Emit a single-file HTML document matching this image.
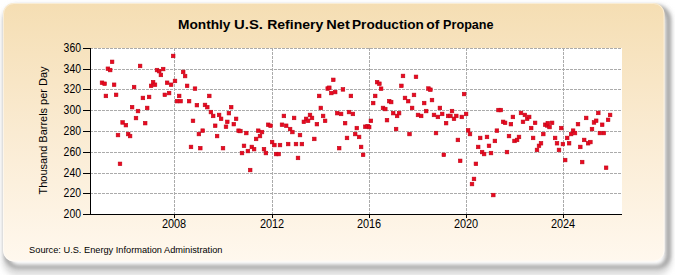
<!DOCTYPE html>
<html><head><meta charset="utf-8"><style>html,body{margin:0;padding:0;background:#fff;width:675px;height:275px;overflow:hidden}svg{display:block}</style></head>
<body><svg width="675" height="275" viewBox="0 0 675 275">
<defs>
<linearGradient id="bg" x1="0" y1="0" x2="0" y2="1">
<stop offset="0" stop-color="#F5DEB3"/>
<stop offset="0.5" stop-color="#FAEBD2"/>
<stop offset="1" stop-color="#FFF8EE"/>
</linearGradient>
<filter id="b1" x="-10%" y="-10%" width="120%" height="130%"><feGaussianBlur stdDeviation="1.9"/></filter>
<filter id="b2" x="-10%" y="-10%" width="120%" height="130%"><feGaussianBlur stdDeviation="3"/></filter>
</defs>
<rect x="0" y="0" width="675" height="275" fill="#ffffff"/>
<rect x="6" y="9" width="662" height="263" rx="11" fill="none" stroke="#cccccc" stroke-width="5" filter="url(#b2)"/>
<rect x="6.5" y="7.5" width="662" height="259.5" rx="12" fill="none" stroke="#828282" stroke-width="3" filter="url(#b1)"/>
<rect x="3" y="3" width="661.5" height="258.5" rx="11" fill="url(#bg)"/>
<rect x="3.5" y="3.5" width="660.5" height="257.5" rx="10.5" fill="none" stroke="#ffffff" stroke-opacity="0.45" stroke-width="1"/>
<rect x="90" y="48" width="532" height="166" fill="#ffffff"/>
<line x1="90" y1="48.5" x2="622" y2="48.5" stroke="#ababab" stroke-width="1" stroke-dasharray="3,1"/>
<line x1="90" y1="69.5" x2="622" y2="69.5" stroke="#ababab" stroke-width="1" stroke-dasharray="3,1"/>
<line x1="90" y1="89.5" x2="622" y2="89.5" stroke="#ababab" stroke-width="1" stroke-dasharray="3,1"/>
<line x1="90" y1="110.5" x2="622" y2="110.5" stroke="#ababab" stroke-width="1" stroke-dasharray="3,1"/>
<line x1="90" y1="131.5" x2="622" y2="131.5" stroke="#ababab" stroke-width="1" stroke-dasharray="3,1"/>
<line x1="90" y1="152.5" x2="622" y2="152.5" stroke="#ababab" stroke-width="1" stroke-dasharray="3,1"/>
<line x1="90" y1="173.5" x2="622" y2="173.5" stroke="#ababab" stroke-width="1" stroke-dasharray="3,1"/>
<line x1="90" y1="193.5" x2="622" y2="193.5" stroke="#ababab" stroke-width="1" stroke-dasharray="3,1"/>
<line x1="174.5" y1="48" x2="174.5" y2="214" stroke="#ababab" stroke-width="1" stroke-dasharray="3,1"/>
<line x1="272.5" y1="48" x2="272.5" y2="214" stroke="#ababab" stroke-width="1" stroke-dasharray="3,1"/>
<line x1="369.5" y1="48" x2="369.5" y2="214" stroke="#ababab" stroke-width="1" stroke-dasharray="3,1"/>
<line x1="466.5" y1="48" x2="466.5" y2="214" stroke="#ababab" stroke-width="1" stroke-dasharray="3,1"/>
<line x1="563.5" y1="48" x2="563.5" y2="214" stroke="#ababab" stroke-width="1" stroke-dasharray="3,1"/>
<rect x="90" y="48" width="1" height="167" fill="#000"/>
<rect x="83" y="214" width="539" height="1" fill="#000"/>
<rect x="83" y="48" width="7" height="1" fill="#000"/>
<rect x="83" y="69" width="7" height="1" fill="#000"/>
<rect x="83" y="89" width="7" height="1" fill="#000"/>
<rect x="83" y="110" width="7" height="1" fill="#000"/>
<rect x="83" y="131" width="7" height="1" fill="#000"/>
<rect x="83" y="152" width="7" height="1" fill="#000"/>
<rect x="83" y="173" width="7" height="1" fill="#000"/>
<rect x="83" y="193" width="7" height="1" fill="#000"/>
<rect x="83" y="214" width="7" height="1" fill="#000"/>
<rect x="174" y="214" width="1" height="4" fill="#000"/>
<rect x="272" y="214" width="1" height="4" fill="#000"/>
<rect x="369" y="214" width="1" height="4" fill="#000"/>
<rect x="466" y="214" width="1" height="4" fill="#000"/>
<rect x="563" y="214" width="1" height="4" fill="#000"/>
<rect x="100.20" y="80.95" width="3.6" height="3.6" fill="#EA0820" stroke="#C00818" stroke-width="0.6"/>
<rect x="102.80" y="81.95" width="3.6" height="3.6" fill="#EA0820" stroke="#C00818" stroke-width="0.6"/>
<rect x="104.10" y="94.15" width="3.6" height="3.6" fill="#EA0820" stroke="#C00818" stroke-width="0.6"/>
<rect x="106.10" y="66.95" width="3.6" height="3.6" fill="#EA0820" stroke="#C00818" stroke-width="0.6"/>
<rect x="108.40" y="68.25" width="3.6" height="3.6" fill="#EA0820" stroke="#C00818" stroke-width="0.6"/>
<rect x="110.30" y="60.05" width="3.6" height="3.6" fill="#EA0820" stroke="#C00818" stroke-width="0.6"/>
<rect x="112.30" y="82.95" width="3.6" height="3.6" fill="#EA0820" stroke="#C00818" stroke-width="0.6"/>
<rect x="114.30" y="93.05" width="3.6" height="3.6" fill="#EA0820" stroke="#C00818" stroke-width="0.6"/>
<rect x="116.20" y="133.25" width="3.6" height="3.6" fill="#EA0820" stroke="#C00818" stroke-width="0.6"/>
<rect x="118.20" y="162.05" width="3.6" height="3.6" fill="#EA0820" stroke="#C00818" stroke-width="0.6"/>
<rect x="120.80" y="120.65" width="3.6" height="3.6" fill="#EA0820" stroke="#C00818" stroke-width="0.6"/>
<rect x="124.10" y="123.35" width="3.6" height="3.6" fill="#EA0820" stroke="#C00818" stroke-width="0.6"/>
<rect x="126.40" y="132.25" width="3.6" height="3.6" fill="#EA0820" stroke="#C00818" stroke-width="0.6"/>
<rect x="128.30" y="134.25" width="3.6" height="3.6" fill="#EA0820" stroke="#C00818" stroke-width="0.6"/>
<rect x="130.30" y="105.35" width="3.6" height="3.6" fill="#EA0820" stroke="#C00818" stroke-width="0.6"/>
<rect x="132.30" y="85.25" width="3.6" height="3.6" fill="#EA0820" stroke="#C00818" stroke-width="0.6"/>
<rect x="134.20" y="116.25" width="3.6" height="3.6" fill="#EA0820" stroke="#C00818" stroke-width="0.6"/>
<rect x="136.20" y="109.25" width="3.6" height="3.6" fill="#EA0820" stroke="#C00818" stroke-width="0.6"/>
<rect x="138.30" y="64.15" width="3.6" height="3.6" fill="#EA0820" stroke="#C00818" stroke-width="0.6"/>
<rect x="141.10" y="96.15" width="3.6" height="3.6" fill="#EA0820" stroke="#C00818" stroke-width="0.6"/>
<rect x="143.40" y="121.35" width="3.6" height="3.6" fill="#EA0820" stroke="#C00818" stroke-width="0.6"/>
<rect x="145.40" y="106.15" width="3.6" height="3.6" fill="#EA0820" stroke="#C00818" stroke-width="0.6"/>
<rect x="147.30" y="95.15" width="3.6" height="3.6" fill="#EA0820" stroke="#C00818" stroke-width="0.6"/>
<rect x="149.30" y="84.05" width="3.6" height="3.6" fill="#EA0820" stroke="#C00818" stroke-width="0.6"/>
<rect x="151.30" y="80.35" width="3.6" height="3.6" fill="#EA0820" stroke="#C00818" stroke-width="0.6"/>
<rect x="153.20" y="82.95" width="3.6" height="3.6" fill="#EA0820" stroke="#C00818" stroke-width="0.6"/>
<rect x="155.20" y="68.25" width="3.6" height="3.6" fill="#EA0820" stroke="#C00818" stroke-width="0.6"/>
<rect x="157.40" y="69.35" width="3.6" height="3.6" fill="#EA0820" stroke="#C00818" stroke-width="0.6"/>
<rect x="159.10" y="73.15" width="3.6" height="3.6" fill="#EA0820" stroke="#C00818" stroke-width="0.6"/>
<rect x="161.40" y="67.25" width="3.6" height="3.6" fill="#EA0820" stroke="#C00818" stroke-width="0.6"/>
<rect x="163.00" y="93.05" width="3.6" height="3.6" fill="#EA0820" stroke="#C00818" stroke-width="0.6"/>
<rect x="165.30" y="80.95" width="3.6" height="3.6" fill="#EA0820" stroke="#C00818" stroke-width="0.6"/>
<rect x="167.30" y="91.25" width="3.6" height="3.6" fill="#EA0820" stroke="#C00818" stroke-width="0.6"/>
<rect x="169.30" y="82.95" width="3.6" height="3.6" fill="#EA0820" stroke="#C00818" stroke-width="0.6"/>
<rect x="171.40" y="54.15" width="3.6" height="3.6" fill="#EA0820" stroke="#C00818" stroke-width="0.6"/>
<rect x="173.20" y="79.15" width="3.6" height="3.6" fill="#EA0820" stroke="#C00818" stroke-width="0.6"/>
<rect x="175.20" y="99.35" width="3.6" height="3.6" fill="#EA0820" stroke="#C00818" stroke-width="0.6"/>
<rect x="177.40" y="94.15" width="3.6" height="3.6" fill="#EA0820" stroke="#C00818" stroke-width="0.6"/>
<rect x="178.80" y="99.35" width="3.6" height="3.6" fill="#EA0820" stroke="#C00818" stroke-width="0.6"/>
<rect x="181.40" y="70.15" width="3.6" height="3.6" fill="#EA0820" stroke="#C00818" stroke-width="0.6"/>
<rect x="183.30" y="74.25" width="3.6" height="3.6" fill="#EA0820" stroke="#C00818" stroke-width="0.6"/>
<rect x="185.30" y="84.05" width="3.6" height="3.6" fill="#EA0820" stroke="#C00818" stroke-width="0.6"/>
<rect x="187.30" y="99.35" width="3.6" height="3.6" fill="#EA0820" stroke="#C00818" stroke-width="0.6"/>
<rect x="189.20" y="145.15" width="3.6" height="3.6" fill="#EA0820" stroke="#C00818" stroke-width="0.6"/>
<rect x="191.20" y="119.05" width="3.6" height="3.6" fill="#EA0820" stroke="#C00818" stroke-width="0.6"/>
<rect x="193.20" y="86.85" width="3.6" height="3.6" fill="#EA0820" stroke="#C00818" stroke-width="0.6"/>
<rect x="195.10" y="103.35" width="3.6" height="3.6" fill="#EA0820" stroke="#C00818" stroke-width="0.6"/>
<rect x="197.10" y="132.25" width="3.6" height="3.6" fill="#EA0820" stroke="#C00818" stroke-width="0.6"/>
<rect x="198.50" y="146.35" width="3.6" height="3.6" fill="#EA0820" stroke="#C00818" stroke-width="0.6"/>
<rect x="200.90" y="128.85" width="3.6" height="3.6" fill="#EA0820" stroke="#C00818" stroke-width="0.6"/>
<rect x="203.20" y="103.15" width="3.6" height="3.6" fill="#EA0820" stroke="#C00818" stroke-width="0.6"/>
<rect x="205.50" y="105.35" width="3.6" height="3.6" fill="#EA0820" stroke="#C00818" stroke-width="0.6"/>
<rect x="207.50" y="94.15" width="3.6" height="3.6" fill="#EA0820" stroke="#C00818" stroke-width="0.6"/>
<rect x="209.10" y="110.25" width="3.6" height="3.6" fill="#EA0820" stroke="#C00818" stroke-width="0.6"/>
<rect x="211.40" y="114.15" width="3.6" height="3.6" fill="#EA0820" stroke="#C00818" stroke-width="0.6"/>
<rect x="213.40" y="123.95" width="3.6" height="3.6" fill="#EA0820" stroke="#C00818" stroke-width="0.6"/>
<rect x="215.30" y="134.25" width="3.6" height="3.6" fill="#EA0820" stroke="#C00818" stroke-width="0.6"/>
<rect x="217.30" y="113.15" width="3.6" height="3.6" fill="#EA0820" stroke="#C00818" stroke-width="0.6"/>
<rect x="219.30" y="117.05" width="3.6" height="3.6" fill="#EA0820" stroke="#C00818" stroke-width="0.6"/>
<rect x="221.20" y="146.35" width="3.6" height="3.6" fill="#EA0820" stroke="#C00818" stroke-width="0.6"/>
<rect x="224.20" y="124.95" width="3.6" height="3.6" fill="#EA0820" stroke="#C00818" stroke-width="0.6"/>
<rect x="225.50" y="120.05" width="3.6" height="3.6" fill="#EA0820" stroke="#C00818" stroke-width="0.6"/>
<rect x="227.10" y="111.35" width="3.6" height="3.6" fill="#EA0820" stroke="#C00818" stroke-width="0.6"/>
<rect x="229.40" y="105.35" width="3.6" height="3.6" fill="#EA0820" stroke="#C00818" stroke-width="0.6"/>
<rect x="232.00" y="122.35" width="3.6" height="3.6" fill="#EA0820" stroke="#C00818" stroke-width="0.6"/>
<rect x="234.30" y="117.05" width="3.6" height="3.6" fill="#EA0820" stroke="#C00818" stroke-width="0.6"/>
<rect x="236.80" y="128.90" width="3.6" height="3.6" fill="#EA0820" stroke="#C00818" stroke-width="0.6"/>
<rect x="238.60" y="129.25" width="3.6" height="3.6" fill="#EA0820" stroke="#C00818" stroke-width="0.6"/>
<rect x="240.20" y="151.25" width="3.6" height="3.6" fill="#EA0820" stroke="#C00818" stroke-width="0.6"/>
<rect x="242.20" y="144.05" width="3.6" height="3.6" fill="#EA0820" stroke="#C00818" stroke-width="0.6"/>
<rect x="244.50" y="131.25" width="3.6" height="3.6" fill="#EA0820" stroke="#C00818" stroke-width="0.6"/>
<rect x="246.10" y="149.25" width="3.6" height="3.6" fill="#EA0820" stroke="#C00818" stroke-width="0.6"/>
<rect x="248.40" y="168.25" width="3.6" height="3.6" fill="#EA0820" stroke="#C00818" stroke-width="0.6"/>
<rect x="250.00" y="145.15" width="3.6" height="3.6" fill="#EA0820" stroke="#C00818" stroke-width="0.6"/>
<rect x="252.30" y="147.35" width="3.6" height="3.6" fill="#EA0820" stroke="#C00818" stroke-width="0.6"/>
<rect x="254.30" y="137.15" width="3.6" height="3.6" fill="#EA0820" stroke="#C00818" stroke-width="0.6"/>
<rect x="256.45" y="128.90" width="3.6" height="3.6" fill="#EA0820" stroke="#C00818" stroke-width="0.6"/>
<rect x="258.20" y="134.25" width="3.6" height="3.6" fill="#EA0820" stroke="#C00818" stroke-width="0.6"/>
<rect x="260.20" y="130.25" width="3.6" height="3.6" fill="#EA0820" stroke="#C00818" stroke-width="0.6"/>
<rect x="262.20" y="147.35" width="3.6" height="3.6" fill="#EA0820" stroke="#C00818" stroke-width="0.6"/>
<rect x="264.10" y="151.25" width="3.6" height="3.6" fill="#EA0820" stroke="#C00818" stroke-width="0.6"/>
<rect x="266.40" y="122.95" width="3.6" height="3.6" fill="#EA0820" stroke="#C00818" stroke-width="0.6"/>
<rect x="268.70" y="123.95" width="3.6" height="3.6" fill="#EA0820" stroke="#C00818" stroke-width="0.6"/>
<rect x="270.30" y="140.25" width="3.6" height="3.6" fill="#EA0820" stroke="#C00818" stroke-width="0.6"/>
<rect x="272.60" y="143.25" width="3.6" height="3.6" fill="#EA0820" stroke="#C00818" stroke-width="0.6"/>
<rect x="274.30" y="152.25" width="3.6" height="3.6" fill="#EA0820" stroke="#C00818" stroke-width="0.6"/>
<rect x="276.90" y="152.25" width="3.6" height="3.6" fill="#EA0820" stroke="#C00818" stroke-width="0.6"/>
<rect x="278.20" y="143.25" width="3.6" height="3.6" fill="#EA0820" stroke="#C00818" stroke-width="0.6"/>
<rect x="280.20" y="122.95" width="3.6" height="3.6" fill="#EA0820" stroke="#C00818" stroke-width="0.6"/>
<rect x="282.10" y="114.15" width="3.6" height="3.6" fill="#EA0820" stroke="#C00818" stroke-width="0.6"/>
<rect x="284.40" y="123.95" width="3.6" height="3.6" fill="#EA0820" stroke="#C00818" stroke-width="0.6"/>
<rect x="286.40" y="142.25" width="3.6" height="3.6" fill="#EA0820" stroke="#C00818" stroke-width="0.6"/>
<rect x="288.30" y="127.25" width="3.6" height="3.6" fill="#EA0820" stroke="#C00818" stroke-width="0.6"/>
<rect x="290.60" y="130.25" width="3.6" height="3.6" fill="#EA0820" stroke="#C00818" stroke-width="0.6"/>
<rect x="292.30" y="116.15" width="3.6" height="3.6" fill="#EA0820" stroke="#C00818" stroke-width="0.6"/>
<rect x="294.20" y="142.25" width="3.6" height="3.6" fill="#EA0820" stroke="#C00818" stroke-width="0.6"/>
<rect x="296.20" y="156.15" width="3.6" height="3.6" fill="#EA0820" stroke="#C00818" stroke-width="0.6"/>
<rect x="298.20" y="133.25" width="3.6" height="3.6" fill="#EA0820" stroke="#C00818" stroke-width="0.6"/>
<rect x="300.10" y="142.25" width="3.6" height="3.6" fill="#EA0820" stroke="#C00818" stroke-width="0.6"/>
<rect x="302.05" y="120.05" width="3.6" height="3.6" fill="#EA0820" stroke="#C00818" stroke-width="0.6"/>
<rect x="304.30" y="117.05" width="3.6" height="3.6" fill="#EA0820" stroke="#C00818" stroke-width="0.6"/>
<rect x="306.30" y="119.05" width="3.6" height="3.6" fill="#EA0820" stroke="#C00818" stroke-width="0.6"/>
<rect x="308.20" y="113.15" width="3.6" height="3.6" fill="#EA0820" stroke="#C00818" stroke-width="0.6"/>
<rect x="310.20" y="116.15" width="3.6" height="3.6" fill="#EA0820" stroke="#C00818" stroke-width="0.6"/>
<rect x="312.50" y="137.15" width="3.6" height="3.6" fill="#EA0820" stroke="#C00818" stroke-width="0.6"/>
<rect x="315.10" y="122.35" width="3.6" height="3.6" fill="#EA0820" stroke="#C00818" stroke-width="0.6"/>
<rect x="317.40" y="94.15" width="3.6" height="3.6" fill="#EA0820" stroke="#C00818" stroke-width="0.6"/>
<rect x="319.00" y="106.15" width="3.6" height="3.6" fill="#EA0820" stroke="#C00818" stroke-width="0.6"/>
<rect x="321.30" y="114.15" width="3.6" height="3.6" fill="#EA0820" stroke="#C00818" stroke-width="0.6"/>
<rect x="323.30" y="119.05" width="3.6" height="3.6" fill="#EA0820" stroke="#C00818" stroke-width="0.6"/>
<rect x="325.90" y="86.75" width="3.6" height="3.6" fill="#EA0820" stroke="#C00818" stroke-width="0.6"/>
<rect x="327.50" y="85.95" width="3.6" height="3.6" fill="#EA0820" stroke="#C00818" stroke-width="0.6"/>
<rect x="329.50" y="91.25" width="3.6" height="3.6" fill="#EA0820" stroke="#C00818" stroke-width="0.6"/>
<rect x="331.50" y="78.05" width="3.6" height="3.6" fill="#EA0820" stroke="#C00818" stroke-width="0.6"/>
<rect x="333.40" y="90.25" width="3.6" height="3.6" fill="#EA0820" stroke="#C00818" stroke-width="0.6"/>
<rect x="335.40" y="111.35" width="3.6" height="3.6" fill="#EA0820" stroke="#C00818" stroke-width="0.6"/>
<rect x="337.40" y="146.35" width="3.6" height="3.6" fill="#EA0820" stroke="#C00818" stroke-width="0.6"/>
<rect x="339.30" y="112.15" width="3.6" height="3.6" fill="#EA0820" stroke="#C00818" stroke-width="0.6"/>
<rect x="341.15" y="87.60" width="3.6" height="3.6" fill="#EA0820" stroke="#C00818" stroke-width="0.6"/>
<rect x="343.30" y="121.35" width="3.6" height="3.6" fill="#EA0820" stroke="#C00818" stroke-width="0.6"/>
<rect x="345.20" y="136.15" width="3.6" height="3.6" fill="#EA0820" stroke="#C00818" stroke-width="0.6"/>
<rect x="347.20" y="110.25" width="3.6" height="3.6" fill="#EA0820" stroke="#C00818" stroke-width="0.6"/>
<rect x="349.10" y="94.15" width="3.6" height="3.6" fill="#EA0820" stroke="#C00818" stroke-width="0.6"/>
<rect x="351.10" y="112.15" width="3.6" height="3.6" fill="#EA0820" stroke="#C00818" stroke-width="0.6"/>
<rect x="353.40" y="132.25" width="3.6" height="3.6" fill="#EA0820" stroke="#C00818" stroke-width="0.6"/>
<rect x="355.00" y="126.25" width="3.6" height="3.6" fill="#EA0820" stroke="#C00818" stroke-width="0.6"/>
<rect x="357.30" y="135.15" width="3.6" height="3.6" fill="#EA0820" stroke="#C00818" stroke-width="0.6"/>
<rect x="359.30" y="145.15" width="3.6" height="3.6" fill="#EA0820" stroke="#C00818" stroke-width="0.6"/>
<rect x="361.30" y="153.05" width="3.6" height="3.6" fill="#EA0820" stroke="#C00818" stroke-width="0.6"/>
<rect x="363.50" y="124.95" width="3.6" height="3.6" fill="#EA0820" stroke="#C00818" stroke-width="0.6"/>
<rect x="365.80" y="124.35" width="3.6" height="3.6" fill="#EA0820" stroke="#C00818" stroke-width="0.6"/>
<rect x="367.40" y="125.25" width="3.6" height="3.6" fill="#EA0820" stroke="#C00818" stroke-width="0.6"/>
<rect x="369.10" y="119.05" width="3.6" height="3.6" fill="#EA0820" stroke="#C00818" stroke-width="0.6"/>
<rect x="371.40" y="101.25" width="3.6" height="3.6" fill="#EA0820" stroke="#C00818" stroke-width="0.6"/>
<rect x="373.40" y="94.15" width="3.6" height="3.6" fill="#EA0820" stroke="#C00818" stroke-width="0.6"/>
<rect x="375.30" y="80.35" width="3.6" height="3.6" fill="#EA0820" stroke="#C00818" stroke-width="0.6"/>
<rect x="377.60" y="81.95" width="3.6" height="3.6" fill="#EA0820" stroke="#C00818" stroke-width="0.6"/>
<rect x="379.30" y="86.90" width="3.6" height="3.6" fill="#EA0820" stroke="#C00818" stroke-width="0.6"/>
<rect x="381.20" y="106.15" width="3.6" height="3.6" fill="#EA0820" stroke="#C00818" stroke-width="0.6"/>
<rect x="383.50" y="107.25" width="3.6" height="3.6" fill="#EA0820" stroke="#C00818" stroke-width="0.6"/>
<rect x="385.20" y="118.35" width="3.6" height="3.6" fill="#EA0820" stroke="#C00818" stroke-width="0.6"/>
<rect x="387.40" y="99.35" width="3.6" height="3.6" fill="#EA0820" stroke="#C00818" stroke-width="0.6"/>
<rect x="389.40" y="100.25" width="3.6" height="3.6" fill="#EA0820" stroke="#C00818" stroke-width="0.6"/>
<rect x="391.40" y="111.35" width="3.6" height="3.6" fill="#EA0820" stroke="#C00818" stroke-width="0.6"/>
<rect x="394.30" y="127.25" width="3.6" height="3.6" fill="#EA0820" stroke="#C00818" stroke-width="0.6"/>
<rect x="395.30" y="114.15" width="3.6" height="3.6" fill="#EA0820" stroke="#C00818" stroke-width="0.6"/>
<rect x="397.30" y="111.35" width="3.6" height="3.6" fill="#EA0820" stroke="#C00818" stroke-width="0.6"/>
<rect x="399.60" y="84.05" width="3.6" height="3.6" fill="#EA0820" stroke="#C00818" stroke-width="0.6"/>
<rect x="401.20" y="74.15" width="3.6" height="3.6" fill="#EA0820" stroke="#C00818" stroke-width="0.6"/>
<rect x="403.20" y="96.15" width="3.6" height="3.6" fill="#EA0820" stroke="#C00818" stroke-width="0.6"/>
<rect x="406.40" y="99.35" width="3.6" height="3.6" fill="#EA0820" stroke="#C00818" stroke-width="0.6"/>
<rect x="407.70" y="132.25" width="3.6" height="3.6" fill="#EA0820" stroke="#C00818" stroke-width="0.6"/>
<rect x="410.30" y="106.15" width="3.6" height="3.6" fill="#EA0820" stroke="#C00818" stroke-width="0.6"/>
<rect x="412.20" y="93.15" width="3.6" height="3.6" fill="#EA0820" stroke="#C00818" stroke-width="0.6"/>
<rect x="414.20" y="75.05" width="3.6" height="3.6" fill="#EA0820" stroke="#C00818" stroke-width="0.6"/>
<rect x="416.20" y="113.15" width="3.6" height="3.6" fill="#EA0820" stroke="#C00818" stroke-width="0.6"/>
<rect x="419.40" y="114.15" width="3.6" height="3.6" fill="#EA0820" stroke="#C00818" stroke-width="0.6"/>
<rect x="422.40" y="101.25" width="3.6" height="3.6" fill="#EA0820" stroke="#C00818" stroke-width="0.6"/>
<rect x="424.40" y="109.25" width="3.6" height="3.6" fill="#EA0820" stroke="#C00818" stroke-width="0.6"/>
<rect x="426.65" y="86.75" width="3.6" height="3.6" fill="#EA0820" stroke="#C00818" stroke-width="0.6"/>
<rect x="428.60" y="87.95" width="3.6" height="3.6" fill="#EA0820" stroke="#C00818" stroke-width="0.6"/>
<rect x="430.20" y="98.25" width="3.6" height="3.6" fill="#EA0820" stroke="#C00818" stroke-width="0.6"/>
<rect x="432.20" y="113.15" width="3.6" height="3.6" fill="#EA0820" stroke="#C00818" stroke-width="0.6"/>
<rect x="434.20" y="131.25" width="3.6" height="3.6" fill="#EA0820" stroke="#C00818" stroke-width="0.6"/>
<rect x="436.10" y="115.15" width="3.6" height="3.6" fill="#EA0820" stroke="#C00818" stroke-width="0.6"/>
<rect x="438.10" y="106.15" width="3.6" height="3.6" fill="#EA0820" stroke="#C00818" stroke-width="0.6"/>
<rect x="440.40" y="112.15" width="3.6" height="3.6" fill="#EA0820" stroke="#C00818" stroke-width="0.6"/>
<rect x="442.00" y="153.05" width="3.6" height="3.6" fill="#EA0820" stroke="#C00818" stroke-width="0.6"/>
<rect x="444.30" y="121.35" width="3.6" height="3.6" fill="#EA0820" stroke="#C00818" stroke-width="0.6"/>
<rect x="446.30" y="114.15" width="3.6" height="3.6" fill="#EA0820" stroke="#C00818" stroke-width="0.6"/>
<rect x="448.60" y="114.15" width="3.6" height="3.6" fill="#EA0820" stroke="#C00818" stroke-width="0.6"/>
<rect x="450.20" y="109.25" width="3.6" height="3.6" fill="#EA0820" stroke="#C00818" stroke-width="0.6"/>
<rect x="452.20" y="117.05" width="3.6" height="3.6" fill="#EA0820" stroke="#C00818" stroke-width="0.6"/>
<rect x="454.50" y="114.15" width="3.6" height="3.6" fill="#EA0820" stroke="#C00818" stroke-width="0.6"/>
<rect x="456.10" y="138.15" width="3.6" height="3.6" fill="#EA0820" stroke="#C00818" stroke-width="0.6"/>
<rect x="458.40" y="159.05" width="3.6" height="3.6" fill="#EA0820" stroke="#C00818" stroke-width="0.6"/>
<rect x="460.00" y="115.15" width="3.6" height="3.6" fill="#EA0820" stroke="#C00818" stroke-width="0.6"/>
<rect x="462.30" y="92.25" width="3.6" height="3.6" fill="#EA0820" stroke="#C00818" stroke-width="0.6"/>
<rect x="464.30" y="112.15" width="3.6" height="3.6" fill="#EA0820" stroke="#C00818" stroke-width="0.6"/>
<rect x="466.30" y="128.55" width="3.6" height="3.6" fill="#EA0820" stroke="#C00818" stroke-width="0.6"/>
<rect x="468.20" y="132.25" width="3.6" height="3.6" fill="#EA0820" stroke="#C00818" stroke-width="0.6"/>
<rect x="470.20" y="182.25" width="3.6" height="3.6" fill="#EA0820" stroke="#C00818" stroke-width="0.6"/>
<rect x="472.20" y="177.15" width="3.6" height="3.6" fill="#EA0820" stroke="#C00818" stroke-width="0.6"/>
<rect x="474.10" y="162.05" width="3.6" height="3.6" fill="#EA0820" stroke="#C00818" stroke-width="0.6"/>
<rect x="476.40" y="145.15" width="3.6" height="3.6" fill="#EA0820" stroke="#C00818" stroke-width="0.6"/>
<rect x="478.40" y="136.15" width="3.6" height="3.6" fill="#EA0820" stroke="#C00818" stroke-width="0.6"/>
<rect x="480.30" y="150.25" width="3.6" height="3.6" fill="#EA0820" stroke="#C00818" stroke-width="0.6"/>
<rect x="482.30" y="152.25" width="3.6" height="3.6" fill="#EA0820" stroke="#C00818" stroke-width="0.6"/>
<rect x="485.20" y="135.15" width="3.6" height="3.6" fill="#EA0820" stroke="#C00818" stroke-width="0.6"/>
<rect x="487.20" y="144.05" width="3.6" height="3.6" fill="#EA0820" stroke="#C00818" stroke-width="0.6"/>
<rect x="489.20" y="151.25" width="3.6" height="3.6" fill="#EA0820" stroke="#C00818" stroke-width="0.6"/>
<rect x="491.50" y="193.25" width="3.6" height="3.6" fill="#EA0820" stroke="#C00818" stroke-width="0.6"/>
<rect x="493.10" y="139.15" width="3.6" height="3.6" fill="#EA0820" stroke="#C00818" stroke-width="0.6"/>
<rect x="495.10" y="128.85" width="3.6" height="3.6" fill="#EA0820" stroke="#C00818" stroke-width="0.6"/>
<rect x="496.70" y="108.25" width="3.6" height="3.6" fill="#EA0820" stroke="#C00818" stroke-width="0.6"/>
<rect x="499.00" y="108.25" width="3.6" height="3.6" fill="#EA0820" stroke="#C00818" stroke-width="0.6"/>
<rect x="501.30" y="120.05" width="3.6" height="3.6" fill="#EA0820" stroke="#C00818" stroke-width="0.6"/>
<rect x="503.30" y="121.05" width="3.6" height="3.6" fill="#EA0820" stroke="#C00818" stroke-width="0.6"/>
<rect x="505.20" y="150.25" width="3.6" height="3.6" fill="#EA0820" stroke="#C00818" stroke-width="0.6"/>
<rect x="507.20" y="134.25" width="3.6" height="3.6" fill="#EA0820" stroke="#C00818" stroke-width="0.6"/>
<rect x="509.10" y="122.35" width="3.6" height="3.6" fill="#EA0820" stroke="#C00818" stroke-width="0.6"/>
<rect x="511.10" y="115.15" width="3.6" height="3.6" fill="#EA0820" stroke="#C00818" stroke-width="0.6"/>
<rect x="512.70" y="139.15" width="3.6" height="3.6" fill="#EA0820" stroke="#C00818" stroke-width="0.6"/>
<rect x="515.30" y="138.15" width="3.6" height="3.6" fill="#EA0820" stroke="#C00818" stroke-width="0.6"/>
<rect x="517.20" y="135.15" width="3.6" height="3.6" fill="#EA0820" stroke="#C00818" stroke-width="0.6"/>
<rect x="519.20" y="111.15" width="3.6" height="3.6" fill="#EA0820" stroke="#C00818" stroke-width="0.6"/>
<rect x="521.20" y="120.05" width="3.6" height="3.6" fill="#EA0820" stroke="#C00818" stroke-width="0.6"/>
<rect x="523.10" y="113.15" width="3.6" height="3.6" fill="#EA0820" stroke="#C00818" stroke-width="0.6"/>
<rect x="525.40" y="117.05" width="3.6" height="3.6" fill="#EA0820" stroke="#C00818" stroke-width="0.6"/>
<rect x="527.40" y="115.15" width="3.6" height="3.6" fill="#EA0820" stroke="#C00818" stroke-width="0.6"/>
<rect x="529.40" y="126.25" width="3.6" height="3.6" fill="#EA0820" stroke="#C00818" stroke-width="0.6"/>
<rect x="531.30" y="136.15" width="3.6" height="3.6" fill="#EA0820" stroke="#C00818" stroke-width="0.6"/>
<rect x="533.30" y="121.05" width="3.6" height="3.6" fill="#EA0820" stroke="#C00818" stroke-width="0.6"/>
<rect x="535.20" y="148.15" width="3.6" height="3.6" fill="#EA0820" stroke="#C00818" stroke-width="0.6"/>
<rect x="537.20" y="144.05" width="3.6" height="3.6" fill="#EA0820" stroke="#C00818" stroke-width="0.6"/>
<rect x="539.20" y="141.45" width="3.6" height="3.6" fill="#EA0820" stroke="#C00818" stroke-width="0.6"/>
<rect x="541.50" y="132.25" width="3.6" height="3.6" fill="#EA0820" stroke="#C00818" stroke-width="0.6"/>
<rect x="543.40" y="122.95" width="3.6" height="3.6" fill="#EA0820" stroke="#C00818" stroke-width="0.6"/>
<rect x="545.40" y="123.65" width="3.6" height="3.6" fill="#EA0820" stroke="#C00818" stroke-width="0.6"/>
<rect x="546.00" y="121.35" width="3.6" height="3.6" fill="#EA0820" stroke="#C00818" stroke-width="0.6"/>
<rect x="547.70" y="125.25" width="3.6" height="3.6" fill="#EA0820" stroke="#C00818" stroke-width="0.6"/>
<rect x="550.30" y="121.05" width="3.6" height="3.6" fill="#EA0820" stroke="#C00818" stroke-width="0.6"/>
<rect x="553.30" y="136.15" width="3.6" height="3.6" fill="#EA0820" stroke="#C00818" stroke-width="0.6"/>
<rect x="555.20" y="141.45" width="3.6" height="3.6" fill="#EA0820" stroke="#C00818" stroke-width="0.6"/>
<rect x="557.20" y="148.15" width="3.6" height="3.6" fill="#EA0820" stroke="#C00818" stroke-width="0.6"/>
<rect x="559.50" y="126.25" width="3.6" height="3.6" fill="#EA0820" stroke="#C00818" stroke-width="0.6"/>
<rect x="561.10" y="142.25" width="3.6" height="3.6" fill="#EA0820" stroke="#C00818" stroke-width="0.6"/>
<rect x="563.40" y="158.25" width="3.6" height="3.6" fill="#EA0820" stroke="#C00818" stroke-width="0.6"/>
<rect x="565.40" y="136.15" width="3.6" height="3.6" fill="#EA0820" stroke="#C00818" stroke-width="0.6"/>
<rect x="567.30" y="141.45" width="3.6" height="3.6" fill="#EA0820" stroke="#C00818" stroke-width="0.6"/>
<rect x="569.30" y="132.25" width="3.6" height="3.6" fill="#EA0820" stroke="#C00818" stroke-width="0.6"/>
<rect x="571.30" y="128.85" width="3.6" height="3.6" fill="#EA0820" stroke="#C00818" stroke-width="0.6"/>
<rect x="573.20" y="131.25" width="3.6" height="3.6" fill="#EA0820" stroke="#C00818" stroke-width="0.6"/>
<rect x="576.20" y="122.35" width="3.6" height="3.6" fill="#EA0820" stroke="#C00818" stroke-width="0.6"/>
<rect x="578.50" y="145.15" width="3.6" height="3.6" fill="#EA0820" stroke="#C00818" stroke-width="0.6"/>
<rect x="580.40" y="160.25" width="3.6" height="3.6" fill="#EA0820" stroke="#C00818" stroke-width="0.6"/>
<rect x="582.40" y="138.15" width="3.6" height="3.6" fill="#EA0820" stroke="#C00818" stroke-width="0.6"/>
<rect x="584.40" y="116.15" width="3.6" height="3.6" fill="#EA0820" stroke="#C00818" stroke-width="0.6"/>
<rect x="586.30" y="141.45" width="3.6" height="3.6" fill="#EA0820" stroke="#C00818" stroke-width="0.6"/>
<rect x="588.60" y="140.25" width="3.6" height="3.6" fill="#EA0820" stroke="#C00818" stroke-width="0.6"/>
<rect x="590.20" y="127.25" width="3.6" height="3.6" fill="#EA0820" stroke="#C00818" stroke-width="0.6"/>
<rect x="592.20" y="120.65" width="3.6" height="3.6" fill="#EA0820" stroke="#C00818" stroke-width="0.6"/>
<rect x="594.40" y="118.95" width="3.6" height="3.6" fill="#EA0820" stroke="#C00818" stroke-width="0.6"/>
<rect x="596.50" y="111.15" width="3.6" height="3.6" fill="#EA0820" stroke="#C00818" stroke-width="0.6"/>
<rect x="598.10" y="131.25" width="3.6" height="3.6" fill="#EA0820" stroke="#C00818" stroke-width="0.6"/>
<rect x="600.40" y="122.95" width="3.6" height="3.6" fill="#EA0820" stroke="#C00818" stroke-width="0.6"/>
<rect x="602.00" y="131.25" width="3.6" height="3.6" fill="#EA0820" stroke="#C00818" stroke-width="0.6"/>
<rect x="604.30" y="165.95" width="3.6" height="3.6" fill="#EA0820" stroke="#C00818" stroke-width="0.6"/>
<rect x="606.30" y="118.05" width="3.6" height="3.6" fill="#EA0820" stroke="#C00818" stroke-width="0.6"/>
<rect x="608.30" y="113.15" width="3.6" height="3.6" fill="#EA0820" stroke="#C00818" stroke-width="0.6"/>
<text x="178.0" y="28.9" font-family="Liberation Sans, sans-serif" font-weight="bold" font-size="13.5" textLength="52.5" lengthAdjust="spacingAndGlyphs" fill="#000">Monthly</text>
<text x="234.1" y="28.9" font-family="Liberation Sans, sans-serif" font-weight="bold" font-size="13.5" textLength="28.9" lengthAdjust="spacingAndGlyphs" fill="#000">U.S.</text>
<text x="267.2" y="28.9" font-family="Liberation Sans, sans-serif" font-weight="bold" font-size="13.5" textLength="56.1" lengthAdjust="spacingAndGlyphs" fill="#000">Refinery</text>
<text x="326.3" y="28.9" font-family="Liberation Sans, sans-serif" font-weight="bold" font-size="13.5" textLength="23.5" lengthAdjust="spacingAndGlyphs" fill="#000">Net</text>
<text x="352.0" y="28.9" font-family="Liberation Sans, sans-serif" font-weight="bold" font-size="13.5" textLength="71.9" lengthAdjust="spacingAndGlyphs" fill="#000">Production</text>
<text x="426.3" y="28.9" font-family="Liberation Sans, sans-serif" font-weight="bold" font-size="13.5" textLength="13.1" lengthAdjust="spacingAndGlyphs" fill="#000">of</text>
<text x="443.1" y="28.9" font-family="Liberation Sans, sans-serif" font-weight="bold" font-size="13.5" textLength="50.5" lengthAdjust="spacingAndGlyphs" fill="#000">Propane</text>
<text x="81" y="51.70" font-family="Liberation Sans, sans-serif" font-size="12" text-anchor="end" textLength="17.4" lengthAdjust="spacingAndGlyphs" fill="#000">360</text>
<text x="81" y="72.70" font-family="Liberation Sans, sans-serif" font-size="12" text-anchor="end" textLength="17.4" lengthAdjust="spacingAndGlyphs" fill="#000">340</text>
<text x="81" y="92.70" font-family="Liberation Sans, sans-serif" font-size="12" text-anchor="end" textLength="17.4" lengthAdjust="spacingAndGlyphs" fill="#000">320</text>
<text x="81" y="113.70" font-family="Liberation Sans, sans-serif" font-size="12" text-anchor="end" textLength="17.4" lengthAdjust="spacingAndGlyphs" fill="#000">300</text>
<text x="81" y="134.70" font-family="Liberation Sans, sans-serif" font-size="12" text-anchor="end" textLength="17.4" lengthAdjust="spacingAndGlyphs" fill="#000">280</text>
<text x="81" y="155.70" font-family="Liberation Sans, sans-serif" font-size="12" text-anchor="end" textLength="17.4" lengthAdjust="spacingAndGlyphs" fill="#000">260</text>
<text x="81" y="176.70" font-family="Liberation Sans, sans-serif" font-size="12" text-anchor="end" textLength="17.4" lengthAdjust="spacingAndGlyphs" fill="#000">240</text>
<text x="81" y="196.70" font-family="Liberation Sans, sans-serif" font-size="12" text-anchor="end" textLength="17.4" lengthAdjust="spacingAndGlyphs" fill="#000">220</text>
<text x="81" y="217.70" font-family="Liberation Sans, sans-serif" font-size="12" text-anchor="end" textLength="17.4" lengthAdjust="spacingAndGlyphs" fill="#000">200</text>
<text x="161.90" y="227.8" font-family="Liberation Sans, sans-serif" font-size="12" textLength="24.3" lengthAdjust="spacingAndGlyphs" fill="#000">2008</text>
<text x="259.90" y="227.8" font-family="Liberation Sans, sans-serif" font-size="12" textLength="24.3" lengthAdjust="spacingAndGlyphs" fill="#000">2012</text>
<text x="356.90" y="227.8" font-family="Liberation Sans, sans-serif" font-size="12" textLength="24.3" lengthAdjust="spacingAndGlyphs" fill="#000">2016</text>
<text x="453.90" y="227.8" font-family="Liberation Sans, sans-serif" font-size="12" textLength="24.3" lengthAdjust="spacingAndGlyphs" fill="#000">2020</text>
<text x="550.90" y="227.8" font-family="Liberation Sans, sans-serif" font-size="12" textLength="24.3" lengthAdjust="spacingAndGlyphs" fill="#000">2024</text>
<text transform="translate(46.6,194.5) rotate(-90)" x="0" y="0" font-family="Liberation Sans, sans-serif" font-size="11" textLength="128" lengthAdjust="spacingAndGlyphs" fill="#000">Thousand Barrels per Day</text>
<text x="29.1" y="252.8" font-family="Liberation Sans, sans-serif" font-size="9.9" textLength="193.4" lengthAdjust="spacingAndGlyphs" fill="#000">Source: U.S. Energy Information Administration</text>
</svg></body></html>
